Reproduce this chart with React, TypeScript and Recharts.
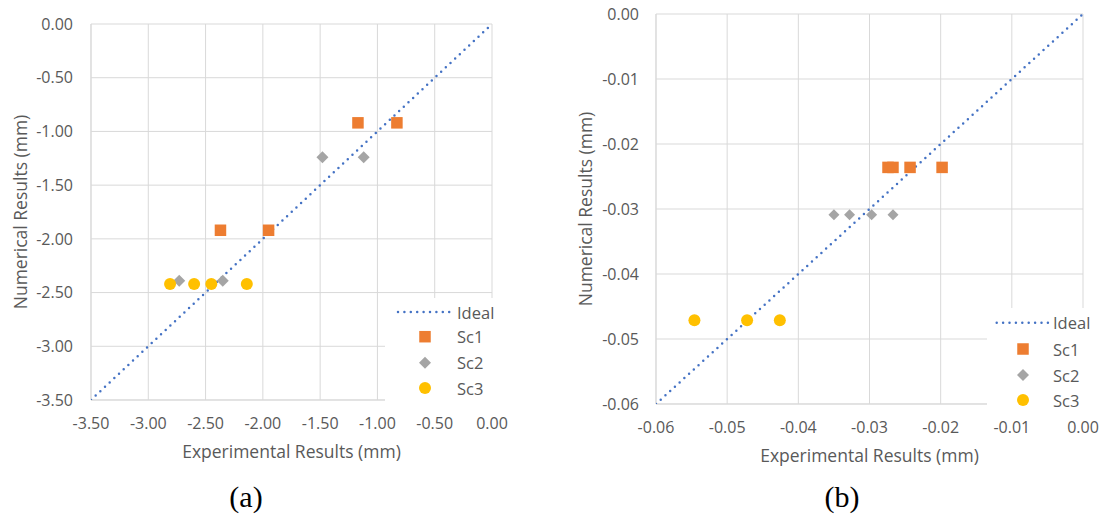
import React from 'react';
import { ScatterChart, Scatter, XAxis, YAxis, CartesianGrid, Legend, Label } from 'recharts';

const FONT = '"Open Sans", "Noto Sans", sans-serif';
const TEXT_COLOR = '#595959';
const GRID_COLOR = '#d9d9d9';
const IDEAL_COLOR = '#4472C4';
const SC1_COLOR = '#ED7D31';
const SC2_COLOR = '#A5A5A5';
const SC3_COLOR = '#FFC000';

const seriesNames = ['Ideal', 'Sc1', 'Sc2', 'Sc3'];
const xTitle = 'Experimental Results (mm)';
const yTitle = 'Numerical Results (mm)';
const panelLabels = ['(a)', '(b)'];

// ---- chart (a)
const aTicks = [-3.5, -3, -2.5, -2, -1.5, -1, -0.5, 0];
const aIdeal = [{ x: -3.5, y: -3.5 }, { x: 0, y: 0 }];
const aSc1 = [
  { x: -1.17, y: -0.92 },
  { x: -0.83, y: -0.92 },
  { x: -2.37, y: -1.92 },
  { x: -1.95, y: -1.92 },
];
const aSc2 = [
  { x: -1.48, y: -1.24 },
  { x: -1.12, y: -1.24 },
  { x: -2.73, y: -2.39 },
  { x: -2.35, y: -2.39 },
];
const aSc3 = [
  { x: -2.81, y: -2.42 },
  { x: -2.6, y: -2.42 },
  { x: -2.45, y: -2.42 },
  { x: -2.14, y: -2.42 },
];

// ---- chart (b)
const bTicks = [-0.06, -0.05, -0.04, -0.03, -0.02, -0.01, 0];
const bIdeal = [{ x: -0.06, y: -0.06 }, { x: 0, y: 0 }];
const bSc1 = [
  { x: -0.0274, y: -0.0236 },
  { x: -0.0267, y: -0.0236 },
  { x: -0.0243, y: -0.0236 },
  { x: -0.0198, y: -0.0236 },
];
const bSc2 = [
  { x: -0.035, y: -0.0309 },
  { x: -0.0328, y: -0.0309 },
  { x: -0.0297, y: -0.0309 },
  { x: -0.0267, y: -0.0309 },
];
const bSc3 = [
  { x: -0.0546, y: -0.0471 },
  { x: -0.0472, y: -0.0471 },
  { x: -0.0426, y: -0.0471 },
];

const squareShape = (size: number) => (p: any) => (
  <rect x={p.cx - size / 2} y={p.cy - size / 2} width={size} height={size} fill={SC1_COLOR} />
);
const diamondShape = (r: number) => (p: any) => (
  <polygon
    points={`${p.cx},${p.cy - r} ${p.cx + r},${p.cy} ${p.cx},${p.cy + r} ${p.cx - r},${p.cy}`}
    fill={SC2_COLOR}
  />
);
const circleShape = (r: number) => (p: any) => <circle cx={p.cx} cy={p.cy} r={r} fill={SC3_COLOR} />;
const emptyShape = () => <g />;

type LegendCfg = {
  left: number;
  top: number;
  width: number;
  height: number;
  rows: number[];
  lineX: [number, number];
  markerX: number;
  textX: number;
};

const makeLegend = (cfg: LegendCfg) => () => (
  <svg width={cfg.width} height={cfg.height} style={{ display: 'block', background: '#ffffff' }}>
    {seriesNames.map((name, i) => {
      const y = cfg.rows[i];
      let marker: React.ReactNode = null;
      if (i === 0) {
        marker = (
          <line
            x1={cfg.lineX[0]}
            x2={cfg.lineX[1]}
            y1={y}
            y2={y}
            stroke={IDEAL_COLOR}
            strokeWidth={2.5}
            strokeDasharray="0 6.4"
            strokeLinecap="round"
          />
        );
      } else if (i === 1) {
        marker = squareShape(11.5)({ cx: cfg.markerX, cy: y });
      } else if (i === 2) {
        marker = diamondShape(6)({ cx: cfg.markerX, cy: y });
      } else {
        marker = circleShape(6)({ cx: cfg.markerX, cy: y });
      }
      return (
        <g key={name}>
          {marker}
          <text
            x={cfg.textX}
            y={y}
            dominantBaseline="central"
            fill={TEXT_COLOR}
            fontSize={16.5}
            fontFamily={FONT}
          >
            {name}
          </text>
        </g>
      );
    })}
  </svg>
);

type PanelCfg = {
  left: number;
  width: number;
  height: number;
  margin: { top: number; right: number; bottom: number; left: number };
  yAxisWidth: number;
  xAxisHeight: number;
  ticks: number[];
  domain: [number, number];
  ideal: { x: number; y: number }[];
  sc1: { x: number; y: number }[];
  sc2: { x: number; y: number }[];
  sc3: { x: number; y: number }[];
  yTitleX: number;
  yTickMargin: number;
  legend: LegendCfg;
  markerSize: number;
  diamondR: number;
};

function Panel({ cfg }: { cfg: PanelCfg }) {
  const fmt = (v: number) => v.toFixed(2);
  return (
    <div style={{ position: 'absolute', left: cfg.left, top: 0, width: cfg.width, height: cfg.height }}>
      <ScatterChart width={cfg.width} height={cfg.height} margin={cfg.margin}>
        <CartesianGrid stroke={GRID_COLOR} strokeWidth={1} />
        <XAxis
          type="number"
          dataKey="x"
          domain={cfg.domain}
          ticks={cfg.ticks}
          interval={0}
          allowDataOverflow
          tickFormatter={fmt}
          tickLine={false}
          axisLine={{ stroke: GRID_COLOR }}
          tickMargin={12}
          height={cfg.xAxisHeight}
          tick={{ fill: TEXT_COLOR, fontSize: 16, fontFamily: FONT }}
        >
          <Label
            value={xTitle}
            content={(p: any) => {
              const vb = p.viewBox;
              return (
                <text
                  x={vb.x + vb.width / 2}
                  y={vb.y + 58}
                  textAnchor="middle"
                  fill={TEXT_COLOR}
                  fontSize={17.5}
                  fontFamily={FONT}
                >
                  {xTitle}
                </text>
              );
            }}
          />
        </XAxis>
        <YAxis
          type="number"
          dataKey="y"
          domain={cfg.domain}
          ticks={cfg.ticks}
          interval={0}
          allowDataOverflow
          tickFormatter={fmt}
          tickLine={false}
          axisLine={{ stroke: GRID_COLOR }}
          tickMargin={cfg.yTickMargin}
          width={cfg.yAxisWidth}
          tick={{ fill: TEXT_COLOR, fontSize: 16, fontFamily: FONT }}
        >
          <Label
            value={yTitle}
            content={(p: any) => {
              const vb = p.viewBox;
              const cx = cfg.yTitleX;
              const cy = vb.y + vb.height / 2;
              return (
                <text
                  x={cx}
                  y={cy}
                  transform={`rotate(-90 ${cx} ${cy})`}
                  textAnchor="middle"
                  dominantBaseline="central"
                  fill={TEXT_COLOR}
                  fontSize={17.5}
                  fontFamily={FONT}
                >
                  {yTitle}
                </text>
              );
            }}
          />
        </YAxis>
        <Legend
          layout="vertical"
          align="center"
          verticalAlign="middle"
          content={makeLegend(cfg.legend)}
          wrapperStyle={{
            left: cfg.legend.left,
            top: cfg.legend.top,
            width: cfg.legend.width,
            height: cfg.legend.height,
            background: '#ffffff',
          }}
        />
        <Scatter
          name={seriesNames[0]}
          data={cfg.ideal}
          line={{ stroke: IDEAL_COLOR, strokeWidth: 2.5, strokeDasharray: '0 6.4', strokeLinecap: 'round' }}
          shape={emptyShape}
          isAnimationActive={false}
          legendType="none"
        />
        <Scatter name={seriesNames[1]} data={cfg.sc1} shape={squareShape(cfg.markerSize)} isAnimationActive={false} />
        <Scatter name={seriesNames[2]} data={cfg.sc2} shape={diamondShape(cfg.diamondR)} isAnimationActive={false} />
        <Scatter name={seriesNames[3]} data={cfg.sc3} shape={circleShape(6)} isAnimationActive={false} />
      </ScatterChart>
    </div>
  );
}

const panelA: PanelCfg = {
  left: 0,
  width: 520,
  height: 470,
  margin: { top: 24, right: 28, bottom: 10, left: 0 },
  yAxisWidth: 91,
  xAxisHeight: 60,
  ticks: aTicks,
  domain: [-3.5, 0],
  ideal: aIdeal,
  sc1: aSc1,
  sc2: aSc2,
  sc3: aSc3,
  yTitleX: 20,
  yTickMargin: 12,
  markerSize: 11.5,
  diamondR: 6,
  legend: {
    left: 385,
    top: 298,
    width: 130,
    height: 108,
    rows: [14, 38.7, 64.7, 90],
    lineX: [13, 66],
    markerX: 40,
    textX: 72,
  },
};

const panelB: PanelCfg = {
  left: 560,
  width: 543,
  height: 470,
  margin: { top: 14, right: 20, bottom: 8, left: 0 },
  yAxisWidth: 96,
  xAxisHeight: 58,
  ticks: bTicks,
  domain: [-0.06, 0],
  ideal: bIdeal,
  sc1: bSc1,
  sc2: bSc2,
  sc3: bSc3,
  yTitleX: 25,
  yTickMargin: 11,
  markerSize: 11.5,
  diamondR: 5.5,
  legend: {
    left: 427,
    top: 308,
    width: 116,
    height: 106,
    rows: [14.7, 41, 67, 92],
    lineX: [9.7, 61],
    markerX: 36,
    textX: 66,
  },
};

export default function App() {
  return (
    <div
      style={{
        position: 'absolute',
        left: 0,
        top: 0,
        width: 1103,
        height: 517,
        background: '#ffffff',
        fontFamily: FONT,
        overflow: 'hidden',
      }}
    >
      <Panel cfg={panelA} />
      <Panel cfg={panelB} />
      {[246, 842].map((cx, i) => (
        <div
          key={panelLabels[i]}
          style={{
            position: 'absolute',
            left: cx - 50,
            width: 100,
            top: 480,
            lineHeight: '34px',
            fontSize: 30,
            textAlign: 'center',
            fontFamily: '"Liberation Serif", "Times New Roman", serif',
            color: '#000',
          }}
        >
          {panelLabels[i]}
        </div>
      ))}
    </div>
  );
}
